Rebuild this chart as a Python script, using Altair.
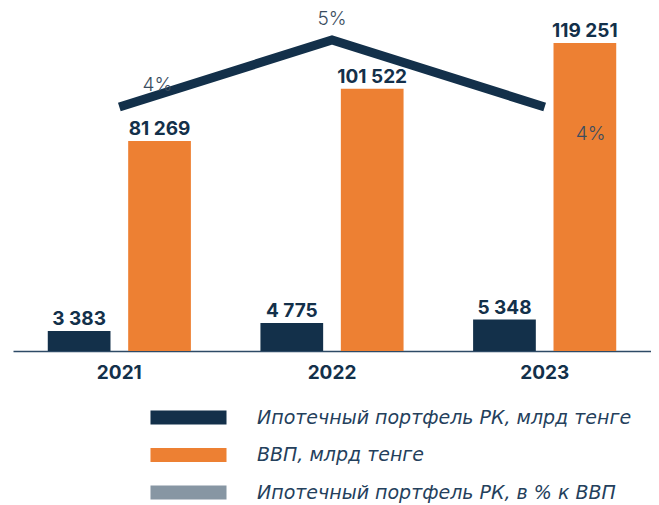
import altair as alt
import pandas as pd

# ---- data ----
years = ["2021", "2022", "2023"]
mortgage = [3383, 4775, 5348]          # Ипотечный портфель РК, млрд тенге
gdp = [81269, 101522, 119251]          # ВВП, млрд тенге
share_pct = [4, 5, 4]                  # Ипотечный портфель РК, в % к ВВП

s_mort = "Ипотечный портфель РК, млрд тенге"
s_gdp = "ВВП, млрд тенге"
s_share = "Ипотечный портфель РК, в % к ВВП"

NAVY = "#13304a"
ORANGE = "#ed8033"
GRAY = "#8796a3"
TXT = "#24405c"

bars = pd.DataFrame(
    {"year": years * 2,
     "series": [s_mort] * 3 + [s_gdp] * 3,
     "value": mortgage + gdp}
)
line_df = pd.DataFrame({"year": years, "pct": share_pct})

FONT = "Inter"
LFONT = "DejaVu Sans"

x_enc = alt.X("year:N", sort=years,
              scale=alt.Scale(paddingInner=0.327, paddingOuter=0.1635),
              axis=alt.Axis(title=None, labelAngle=0, ticks=False,
                            labelFontSize=19, labelFontWeight="bold",
                            labelColor=NAVY, labelFont=FONT, labelPadding=12,
                            domainColor="#2d4a66", domainWidth=1.5, grid=False))
xoff = alt.XOffset("series:N", scale=alt.Scale(domain=[s_mort, s_gdp],
                                               paddingInner=0.22, paddingOuter=0))
color = alt.Color(
    "series:N",
    scale=alt.Scale(domain=[s_mort, s_gdp, s_share], range=[NAVY, ORANGE, GRAY]),
    legend=alt.Legend(
        title=None, orient="none", legendX=166, legendY=398,
        direction="vertical", padding=0,
        symbolType="M-5.43,-1H5.43V1H-5.43Z", symbolSize=196,
        symbolStrokeWidth=0, symbolOpacity=1,
        labelFont=LFONT, labelFontSize=19, labelFontStyle="italic",
        labelColor=TXT, labelOffset=59, labelLimit=600, rowPadding=17.5,
    ),
)

base = alt.Chart(bars).encode(x=x_enc, xOffset=xoff)

y_m = alt.Y("value:Q", scale=alt.Scale(domain=[0, 58000], nice=False), axis=None)
y_g = alt.Y("value:Q", scale=alt.Scale(domain=[0, 132000], nice=False), axis=None)

label_expr = "replace(format(datum.value, ','), /,/g, ' ')"

mort_bars = base.transform_filter(alt.datum.series == s_mort).mark_bar().encode(y=y_m, color=color)
mort_text = base.transform_filter(alt.datum.series == s_mort).transform_calculate(
    lbl=label_expr).mark_text(baseline="alphabetic", dy=-6, font=FONT, fontSize=19,
                              fontWeight="bold", color=NAVY).encode(y=y_m, text="lbl:N")

gdp_bars = base.transform_filter(alt.datum.series == s_gdp).mark_bar().encode(y=y_g, color=color)
gdp_text = base.transform_filter(alt.datum.series == s_gdp).transform_calculate(
    lbl=label_expr).mark_text(baseline="alphabetic", dy=-6, font=FONT, fontSize=19,
                              fontWeight="bold", color=NAVY).encode(y=y_g, text="lbl:N")

y_l = alt.Y("pct:Q", scale=alt.Scale(domain=[0.358, 5.448], nice=False, zero=False), axis=None)
lbase = alt.Chart(line_df).encode(x=alt.X("year:N", sort=years), y=y_l)
line = lbase.mark_line(color=NAVY, strokeWidth=9, strokeCap="butt", strokeJoin="miter")

pct_style = dict(font=FONT, fontSize=19, fontWeight=300, color="#3a4d60", baseline="middle")
pct_lbl = "datum.pct + '%'"
t1 = lbase.transform_filter(alt.datum.year == "2021").transform_calculate(t=pct_lbl).mark_text(
    dx=38, dy=-22, **pct_style).encode(text="t:N")
t2 = lbase.transform_filter(alt.datum.year == "2022").transform_calculate(t=pct_lbl).mark_text(
    dx=0, dy=-21, **pct_style).encode(text="t:N")
t3 = lbase.transform_filter(alt.datum.year == "2023").transform_calculate(t=pct_lbl).mark_text(
    dx=46, dy=27, **pct_style).encode(text="t:N")

chart = alt.layer(
    gdp_bars, mort_bars, line, gdp_text, mort_text, t1, t2, t3
).resolve_scale(y="independent").properties(
    width=638, height=341,
    padding={"left": 5, "top": 2, "right": 0, "bottom": 0},
).configure_view(stroke=None).configure_axis(grid=False)

chart.save("out.html", embed_options={"renderer": "svg", "actions": False})
